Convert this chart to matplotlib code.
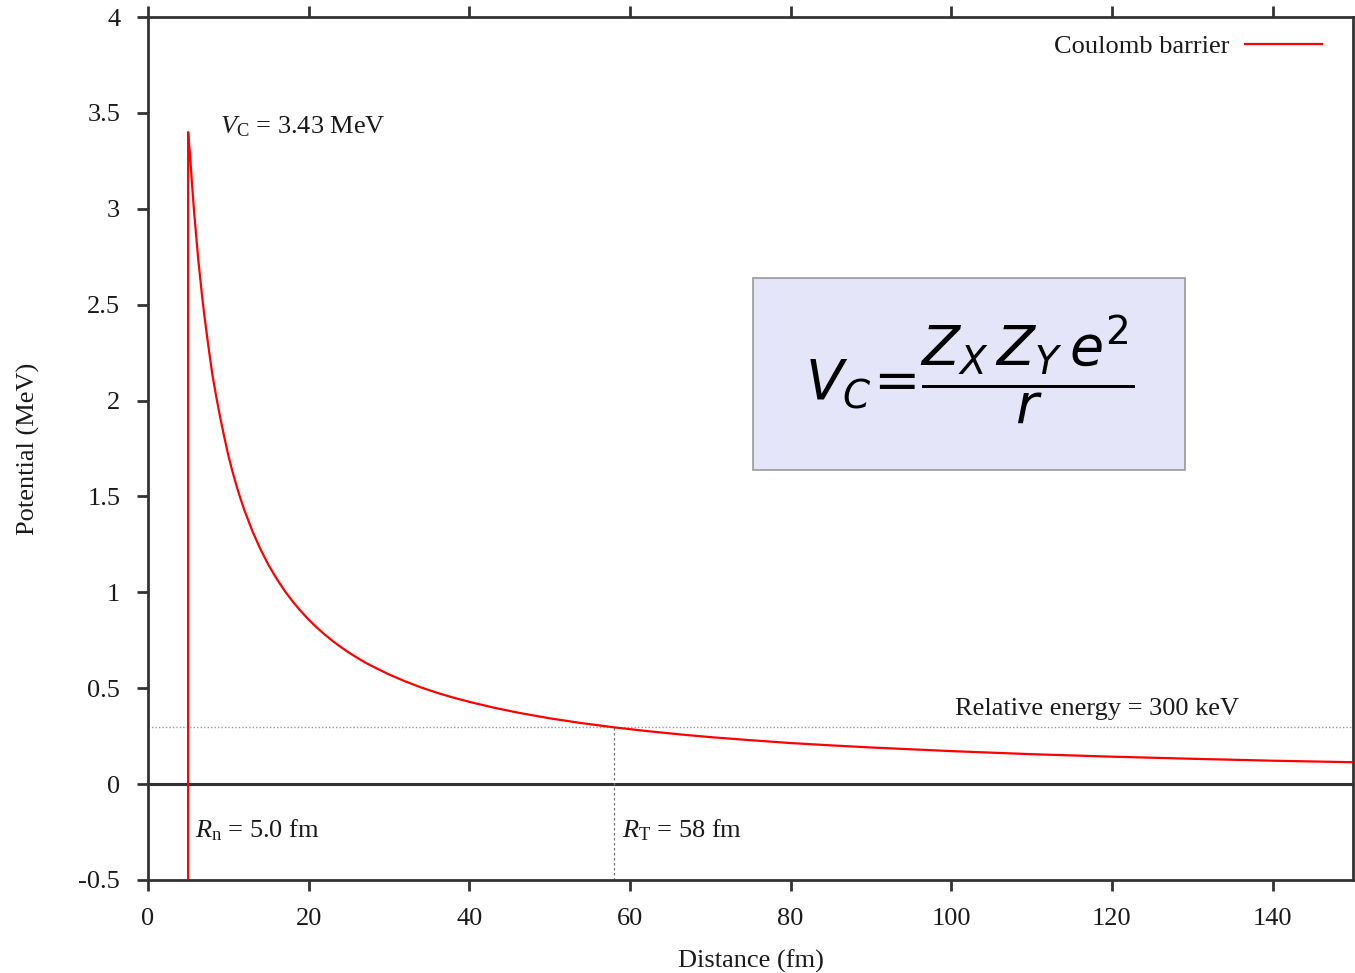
import matplotlib
matplotlib.use('Agg')
import matplotlib.pyplot as plt
from matplotlib.patches import Rectangle

plt.rcParams['font.family'] = ['Liberation Serif', 'DejaVu Serif']
plt.rcParams['mathtext.fontset'] = 'custom'
plt.rcParams['mathtext.rm'] = 'Liberation Serif'
plt.rcParams['mathtext.it'] = 'Liberation Serif:italic'

# distance (fm) / potentiel (MeV)
distance = [5.0, 5.0, 5.25, 5.5, 5.75, 6.0, 6.25, 6.5, 6.75, 7.0, 7.5, 8.0, 8.5, 9.0, 9.5,
            10, 10.5, 11, 11.5, 12, 13, 14, 15, 16, 17, 18, 19, 20, 21, 22, 23, 24, 25,
            26, 27, 28, 30, 32, 34, 36, 38, 40, 43, 46, 50, 54, 58, 62, 66, 70, 75, 80,
            85, 90, 100, 110, 120, 130, 140, 150]
potential = [-0.5, 3.40, 3.27, 3.12, 2.98, 2.86, 2.74, 2.64, 2.54, 2.45, 2.29, 2.14, 2.02,
             1.91, 1.81, 1.715, 1.633, 1.559, 1.491, 1.429, 1.319, 1.225, 1.143, 1.072,
             1.009, 0.953, 0.903, 0.858, 0.817, 0.780, 0.746, 0.715, 0.686, 0.660, 0.635,
             0.613, 0.572, 0.536, 0.504, 0.476, 0.451, 0.429, 0.399, 0.373, 0.343, 0.318,
             0.296, 0.277, 0.260, 0.245, 0.229, 0.214, 0.202, 0.191, 0.172, 0.156, 0.143,
             0.132, 0.122, 0.114]

e_rel = 0.3   # energie relative (MeV)
r_t = 58      # point de rebroussement (fm)

xticks = [0, 20, 40, 60, 80, 100, 120, 140]
yticks = [-0.5, 0, 0.5, 1, 1.5, 2, 2.5, 3, 3.5, 4]
ytick_labels = ['-0.5', '0', '0.5', '1', '1.5', '2', '2.5', '3', '3.5', '4']

txt = '#1a1a1a'
fs = 19

fig = plt.figure(figsize=(13.55, 9.73), dpi=100)
ax = fig.add_axes([0.1092, 0.0956, 0.8893, 0.8869])

ax.axhline(0, color='#333333', lw=2.2, zorder=1)
ax.axhline(e_rel, color='#999999', lw=1, ls=(0, (1, 1.5)), zorder=1)
ax.plot([r_t, r_t], [-0.5, e_rel], color='#777777', lw=0.9, ls=(0, (2, 2)), zorder=1)

ax.plot(distance, potential, color='red', lw=1.6, label='Coulomb barrier', zorder=3)

ax.set_xlim(0, 150)
ax.set_ylim(-0.5, 4)
ax.set_xticks(xticks)
ax.set_yticks(yticks)
ax.set_yticklabels(ytick_labels)
ax.tick_params(direction='out', length=8, width=2, labelsize=fs, color='#333333',
               labelcolor=txt, top=True, right=False, pad=12)
for s in ax.spines.values():
    s.set_linewidth(2)
    s.set_color('#333333')

ax.set_xlabel('Distance (fm)', fontsize=fs, labelpad=14, color=txt)
ax.set_ylabel('Potential (MeV)', fontsize=fs, labelpad=28, color=txt)

ax.text(9.0, 3.43, r'$V_{\mathrm{C}}$ = 3.43 MeV', fontsize=fs, va='center', color=txt)
ax.text(135.8, 0.39, 'Relative energy = 300 keV', fontsize=fs, ha='right', va='center',
        color=txt)
ax.text(5.9, -0.24, r'$R_{\mathrm{n}}$ = 5.0 fm', fontsize=fs, va='center', color=txt)
ax.text(59.0, -0.24, r'$R_{\mathrm{T}}$ = 58 fm', fontsize=fs, va='center', color=txt)

leg = ax.legend(loc='upper right', bbox_to_anchor=(0.983, 0.992), frameon=False,
                markerfirst=False, fontsize=fs, handlelength=2.9, handletextpad=0.6,
                borderaxespad=0, labelcolor=txt)

# encadre de la formule
fig.patches.append(Rectangle((753 / 1355, 1 - 470 / 973), 432 / 1355, 192 / 973,
                             transform=fig.transFigure, facecolor='#e5e5fa',
                             edgecolor='#999999', lw=1.2, zorder=5))
fig.text(970 / 1355, 1 - 370 / 973, r'$V_{C}\!=\!\dfrac{Z_{X}\,Z_{Y}\,e^{2}}{r}$',
         fontsize=40, ha='center', va='center', zorder=6,
         math_fontfamily='dejavusans')

fig.savefig('out.png', dpi=100)
